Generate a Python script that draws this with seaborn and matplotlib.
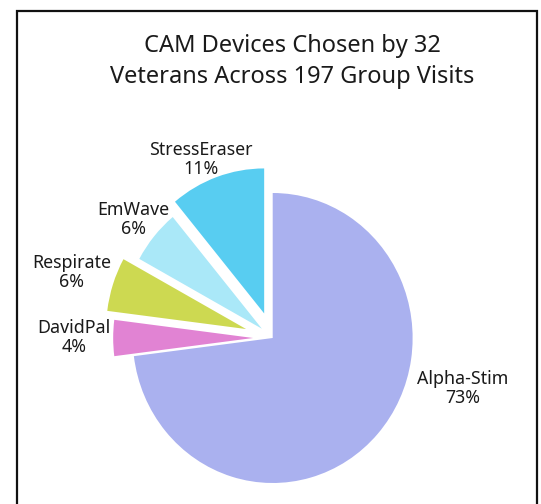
import matplotlib
matplotlib.use("Agg")
import matplotlib.pyplot as plt
import seaborn as sns
from matplotlib.patches import Rectangle

# ---- data ----
devices = ["Alpha-Stim", "DavidPal", "Respirate", "EmWave", "StressEraser"]
percents = [73, 4, 6, 6, 11]
colors = ["#aab1ef", "#e183d3", "#cdd951", "#aae8f8", "#58cdf1"]
explode = [0.0, 0.14, 0.20, 0.10, 0.18]   # fraction of radius
title_lines = ["CAM Devices Chosen by 32", "Veterans Across 197 Group Visits"]

# label anchor positions in image pixels (center x, baseline y of first line)
label_pos = {
    "Alpha-Stim": (463, 384),
    "DavidPal": (74, 333),
    "Respirate": (72, 268),
    "EmWave": (133, 215),
    "StressEraser": (201, 155),
}

sns.set_theme(style="white")
plt.rcParams["font.family"] = ["Noto Sans", "DejaVu Sans"]

W, H = 541, 504
SX = 0.965  # slight horizontal squash seen in the reference
fig = plt.figure(figsize=(W / 100, H / 100), dpi=100)
fig.patch.set_facecolor("white")
ax = fig.add_axes([0, 0, 1, 1])


def px(x, y):
    """image pixel -> data coords"""
    return x / SX, H - y


cx, cy = px(272.7, 338)
R = 145
ax.pie(percents, colors=colors, explode=[e * R for e in explode],
       startangle=90, counterclock=False, center=(cx, cy), radius=R,
       wedgeprops=dict(linewidth=0))
ax.set_xlim(0, W / SX)
ax.set_ylim(0, H)
ax.set_aspect("auto")
ax.axis("off")

# frame
x0, y0 = px(16.5, 10.7)
x1, _ = px(537.3, 0)
ax.add_patch(Rectangle((x0, -10), x1 - x0, y0 + 10, fill=False,
                       edgecolor="#111111", linewidth=1.6, clip_on=False))

# title
tx, ty1 = px(292, 51.7)
_, ty2 = px(292, 83.3)
ax.text(tx, ty1, title_lines[0], ha="center", va="baseline", fontsize=17,
        color="#1a1a1a")
ax.text(tx, ty2, title_lines[1], ha="center", va="baseline", fontsize=17,
        color="#1a1a1a")

# labels
for name, pct in zip(devices, percents):
    lx, ly = label_pos[name]
    a, b = px(lx, ly)
    _, b2 = px(lx, ly + 19)
    ax.text(a, b, name, ha="center", va="baseline", fontsize=12.8,
            color="#1a1a1a")
    ax.text(a, b2, f"{pct}%", ha="center", va="baseline", fontsize=12.8,
            color="#1a1a1a")

fig.savefig("out.png", dpi=100, facecolor="white")
